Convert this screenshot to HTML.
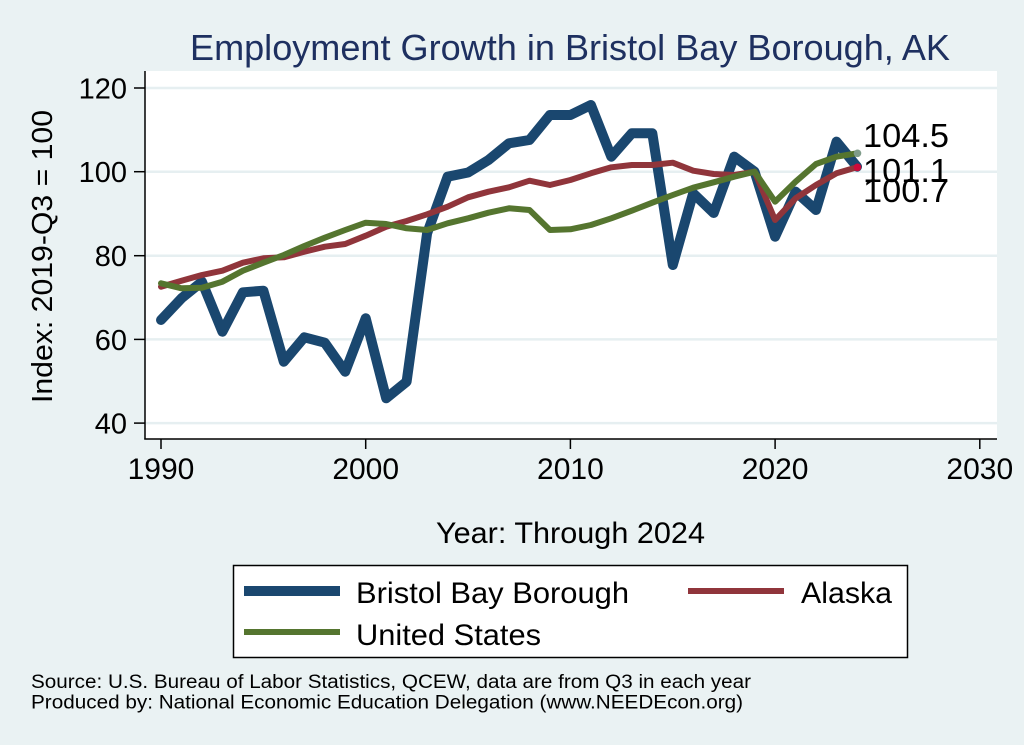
<!DOCTYPE html>
<html>
<head>
<meta charset="utf-8">
<style>
html,body{margin:0;padding:0;background:#eaf2f3;}
svg{display:block;}
text{font-family:"Liberation Sans",Arial,Helvetica,sans-serif;}
</style>
</head>
<body>
<svg width="1024" height="745" viewBox="0 0 1024 745" xmlns="http://www.w3.org/2000/svg">
<rect x="0" y="0" width="1024" height="745" fill="#eaf2f3"/>
<!-- title -->
<text x="190" y="60" font-size="36" fill="#1e3060" textLength="760" lengthAdjust="spacingAndGlyphs">Employment Growth in Bristol Bay Borough, AK</text>
<!-- plot area -->
<rect x="145" y="71" width="852" height="368" fill="#ffffff"/>
<!-- gridlines -->
<g stroke="#e6eff1" stroke-width="2.5">
<line x1="145" y1="88" x2="997" y2="88"/>
<line x1="145" y1="171.7" x2="997" y2="171.7"/>
<line x1="145" y1="255.7" x2="997" y2="255.7"/>
<line x1="145" y1="339.4" x2="997" y2="339.4"/>
<line x1="145" y1="423.1" x2="997" y2="423.1"/>
</g>
<!-- axes -->
<g stroke="#000" stroke-width="1.5">
<line x1="145" y1="71" x2="145" y2="439.5"/>
<line x1="144.3" y1="439" x2="997" y2="439"/>
<line x1="134" y1="88" x2="145" y2="88"/>
<line x1="134" y1="171.7" x2="145" y2="171.7"/>
<line x1="134" y1="255.7" x2="145" y2="255.7"/>
<line x1="134" y1="339.4" x2="145" y2="339.4"/>
<line x1="134" y1="423.1" x2="145" y2="423.1"/>
<line x1="161" y1="439" x2="161" y2="449"/>
<line x1="365.7" y1="439" x2="365.7" y2="449"/>
<line x1="570.4" y1="439" x2="570.4" y2="449"/>
<line x1="775.1" y1="439" x2="775.1" y2="449"/>
<line x1="979.8" y1="439" x2="979.8" y2="449"/>
</g>
<!-- y tick labels -->
<g font-size="29" fill="#000" text-anchor="end">
<text x="127" y="98.5">120</text>
<text x="127" y="182.2">100</text>
<text x="127" y="266.2">80</text>
<text x="127" y="349.9">60</text>
<text x="127" y="433.6">40</text>
</g>
<!-- x tick labels -->
<g font-size="30" fill="#000" text-anchor="middle">
<text x="161" y="479">1990</text>
<text x="365.7" y="479">2000</text>
<text x="570.4" y="479">2010</text>
<text x="775.1" y="479">2020</text>
<text x="979.8" y="479">2030</text>
</g>
<!-- axis titles -->
<text x="436" y="543" font-size="30" fill="#000" textLength="269" lengthAdjust="spacingAndGlyphs">Year: Through 2024</text>
<text transform="translate(52,256.5) rotate(-90)" font-size="29" fill="#000" text-anchor="middle" textLength="293" lengthAdjust="spacingAndGlyphs">Index: 2019-Q3 = 100</text>
<!-- series -->
<g fill="none" stroke-linejoin="round" stroke-linecap="round">
<polyline stroke="#1a476f" stroke-width="10" points="161,320 181.5,298.3 201.9,281.7 222.4,331.7 242.9,292.3 263.4,290.7 283.8,361.7 304.3,337.3 324.8,342.7 345.2,371.7 365.7,318.3 386.2,398.3 406.6,381.7 427.1,233.3 447.6,176.7 468.1,172.5 488.5,160 509,143.3 529.5,140 549.9,115 570.4,115 590.9,105 611.3,156.7 631.8,133.3 652.3,133.3 672.8,265 693.2,193.3 713.7,213 734.2,156.7 754.6,171.7 775.1,236.7 795.6,191.7 816,210 836.5,141.7 857,166.7"/>
<polyline stroke="#90353b" stroke-width="6" points="161,286.7 181.5,280.7 201.9,275 222.4,270.7 242.9,262.7 263.4,258.3 283.8,257.3 304.3,251.7 324.8,246.7 345.2,244 365.7,235.7 386.2,226.7 406.6,221 427.1,214.3 447.6,206.7 468.1,197.3 488.5,191.7 509,187.3 529.5,180.7 549.9,185 570.4,180 590.9,173.3 611.3,167.3 631.8,165 652.3,165 672.8,162.7 693.2,170.7 713.7,174 734.2,175 754.6,171.7 775.1,220 795.6,198.3 816,185 836.5,173.3 857,167.3"/>
<polyline stroke="#55752f" stroke-width="6" points="161,283.3 181.5,288.3 201.9,287.7 222.4,281.7 242.9,270.7 263.4,262.7 283.8,255 304.3,246 324.8,237.7 345.2,230 365.7,222.7 386.2,224 406.6,228.3 427.1,230 447.6,223.3 468.1,218.3 488.5,212.7 509,208.3 529.5,210 549.9,230 570.4,229.3 590.9,225 611.3,218.3 631.8,210.7 652.3,202.7 672.8,195 693.2,187.7 713.7,182.3 734.2,176.7 754.6,171.7 775.1,201.7 795.6,181.7 816,164 836.5,156.7 857,153.3"/>
</g>
<circle cx="857.5" cy="153.3" r="3.8" fill="#7f9c8a"/>
<circle cx="857.5" cy="167.3" r="3.8" fill="#cc0a3a"/>
<!-- value labels -->
<g font-size="33" fill="#000">
<text x="863" y="147" textLength="86" lengthAdjust="spacingAndGlyphs">104.5</text>
<text x="863" y="182" textLength="86" lengthAdjust="spacingAndGlyphs">101.1</text>
<text x="863" y="202" textLength="86" lengthAdjust="spacingAndGlyphs">100.7</text>
</g>
<!-- legend -->
<rect x="233.5" y="565.5" width="674" height="92" fill="#ffffff" stroke="#000" stroke-width="1.5"/>
<line x1="244" y1="591" x2="340" y2="591" stroke="#1a476f" stroke-width="10"/>
<line x1="688" y1="591" x2="784" y2="591" stroke="#90353b" stroke-width="6"/>
<line x1="244" y1="632" x2="340" y2="632" stroke="#55752f" stroke-width="6"/>
<g font-size="30" fill="#000">
<text x="356" y="603" textLength="273" lengthAdjust="spacingAndGlyphs">Bristol Bay Borough</text>
<text x="801" y="603" textLength="91" lengthAdjust="spacingAndGlyphs">Alaska</text>
<text x="356" y="645" textLength="185" lengthAdjust="spacingAndGlyphs">United States</text>
</g>
<!-- footer -->
<g font-size="19" fill="#000">
<text x="31" y="688" textLength="720" lengthAdjust="spacingAndGlyphs">Source: U.S. Bureau of Labor Statistics, QCEW, data are from Q3 in each year</text>
<text x="31" y="708.5" textLength="712" lengthAdjust="spacingAndGlyphs">Produced by: National Economic Education Delegation (www.NEEDEcon.org)</text>
</g>
</svg>
</body>
</html>
